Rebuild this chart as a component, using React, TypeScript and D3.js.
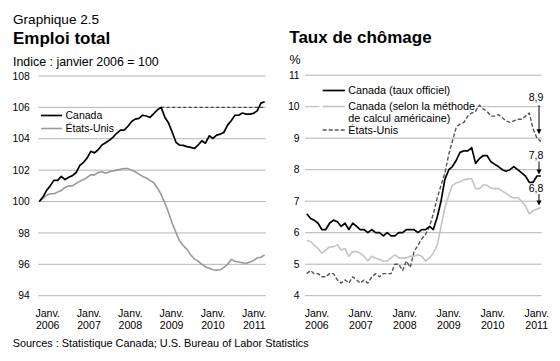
import React from 'react';
import * as d3 from 'd3';

const yearLabels = ['2006', '2007', '2008', '2009', '2010', '2011'];
const monthLabel = 'Janv.';
const employmentTicks = [94, 96, 98, 100, 102, 104, 106, 108];
const unemploymentTicks = [4, 5, 6, 7, 8, 9, 10, 11];

// Monthly, Jan 2006 – Feb 2011
const canadaEmployment = [
  100.0, 100.3, 100.7, 101.0, 101.35, 101.35, 101.6, 101.4, 101.55, 101.65,
  101.85, 102.3, 102.5, 102.8, 103.2, 103.1, 103.3, 103.6, 103.75, 103.9,
  104.1, 104.35, 104.55, 104.55, 104.8, 105.1, 105.25, 105.3, 105.5, 105.45,
  105.36, 105.6, 105.85, 106.0, 105.36, 105.0, 104.4, 103.76, 103.6, 103.58,
  103.5, 103.45, 103.38, 103.6, 103.87, 103.72, 104.19, 104.02, 104.23, 104.3,
  104.4, 104.87, 105.15, 105.5, 105.5, 105.64, 105.57, 105.57, 105.62, 105.78,
  106.27, 106.36,
];
const usEmployment = [
  100.0, 100.2, 100.4, 100.5, 100.5, 100.6, 100.7, 100.9, 101.0, 101.0,
  101.15, 101.3, 101.4, 101.55, 101.7, 101.7, 101.85, 101.9, 101.8, 101.9,
  101.95, 102.0, 102.05, 102.1, 102.1, 102.0, 101.9, 101.75, 101.6, 101.5,
  101.35, 101.2, 100.85, 100.45, 99.9, 99.3, 98.6, 98.0, 97.5, 97.2,
  96.95, 96.6, 96.35, 96.2, 96.0, 95.85, 95.75, 95.65, 95.63, 95.65,
  95.8, 96.0, 96.3, 96.2, 96.15, 96.1, 96.05, 96.15, 96.25, 96.4,
  96.45, 96.6,
];
const canadaUnemployment = [
  6.6, 6.45, 6.4, 6.3, 6.1, 6.1, 6.3, 6.4, 6.35, 6.2,
  6.3, 6.1, 6.3, 6.2, 6.1, 6.1, 6.0, 6.1, 6.0, 6.0,
  5.9, 6.0, 5.9, 5.9, 6.0, 6.0, 6.1, 6.1, 6.1, 6.0,
  6.1, 6.1, 6.2, 6.1, 6.5, 7.0, 7.7, 8.0, 8.1, 8.3,
  8.55, 8.6, 8.6, 8.7, 8.2, 8.35, 8.45, 8.45, 8.25, 8.17,
  8.1, 8.0, 7.95, 8.0, 8.1, 8.0, 7.9, 7.8, 7.6, 7.6,
  7.8, 7.8,
];
const canadaUnemploymentUSBasis = [
  5.75, 5.72, 5.6, 5.5, 5.35, 5.45, 5.55, 5.55, 5.62, 5.45,
  5.5, 5.25, 5.4, 5.4, 5.35, 5.25, 5.1, 5.25, 5.2, 5.15,
  5.1, 5.1, 5.2, 5.3, 5.2, 5.2, 5.2, 5.25, 5.25, 5.3,
  5.25, 5.1, 5.2, 5.35, 5.6, 6.2, 6.8, 7.2, 7.5, 7.58,
  7.62, 7.68, 7.7, 7.72, 7.4, 7.4, 7.52, 7.5, 7.42, 7.4,
  7.4, 7.32, 7.25, 7.15, 7.1, 7.12, 7.0, 6.85, 6.6, 6.7,
  6.75, 6.8,
];
const usUnemployment = [
  4.7, 4.8, 4.7, 4.7, 4.6, 4.6, 4.7, 4.7, 4.5, 4.4,
  4.5, 4.4, 4.6, 4.5, 4.4, 4.5, 4.4, 4.6, 4.7, 4.6,
  4.7, 4.7, 4.7, 5.0, 5.0, 4.8, 5.1, 4.9, 5.4, 5.6,
  5.8, 5.95, 6.2, 6.6, 7.1, 7.5, 7.9, 8.5, 8.9, 9.35,
  9.45, 9.5, 9.7, 9.8, 9.85, 10.05, 9.93, 9.85, 9.7, 9.7,
  9.75, 9.65, 9.55, 9.5, 9.55, 9.6, 9.6, 9.7, 9.8, 9.3,
  9.0, 8.9,
];

const months = d3.timeMonth.range(new Date(2006, 0, 1), new Date(2011, 2, 1));

const FONT = "'Liberation Sans', Arial, Helvetica, sans-serif";
const GRID = '#b4b4b4';

const fmtComma = (v: number) => d3.format('.1f')(v).replace('.', ',');

export default function App() {
  const start = months[0];
  const end = months[months.length - 1];

  const xL = d3.scaleTime().domain([start, end]).range([39.3, 264.7]);
  const yL = d3.scaleLinear().domain([94, 108]).range([295.7, 76]);
  const xR = d3.scaleTime().domain([start, end]).range([306.7, 540.9]);
  const yR = d3.scaleLinear().domain([4, 11]).range([295.7, 75.2]);
  const labL = d3.scalePoint<string>().domain(yearLabels).range([47.7, 254.3]);
  const labR = d3.scalePoint<string>().domain(yearLabels).range([316.9, 536.7]);

  const mkLine = (x: any, y: any) =>
    d3
      .line<number>()
      .x((_, i) => x(months[i]))
      .y((v) => y(v));
  const lineL = mkLine(xL, yL);
  const lineR = mkLine(xR, yR);

  // pre-recession peak of Canadian employment (before 2010)
  const peakIdx = d3.maxIndex(canadaEmployment.slice(0, 48));
  const peakVal = canadaEmployment[peakIdx];

  const last = months.length - 1;
  const arrowX = 539;
  const annotations = [
    { value: usUnemployment[last], labelDy: -40.5, fromY: yR(10) - 1.5, tipDy: -7 },
    { value: canadaUnemployment[last], labelDy: -17, fromY: null as number | null, tipDy: -1.5 },
    { value: canadaUnemploymentUSBasis[last], labelDy: -16, fromY: null as number | null, tipDy: -2 },
  ];

  const textStyle = { fontFamily: FONT, fill: '#000' } as const;

  return (
    <svg
      width={560}
      height={361}
      viewBox="0 0 560 361"
      style={{ position: 'absolute', left: 0, top: 0, background: '#fff' }}
    >
      <rect x={0} y={0} width={560} height={361} fill="#fff" />

      {/* Titles */}
      <text x={13} y={24.3} fontSize={13.6} style={textStyle}>Graphique 2.5</text>
      <text x={13} y={44.3} fontSize={17} fontWeight="bold" style={textStyle}>Emploi total</text>
      <text x={13} y={66} fontSize={12.4} style={textStyle}>Indice : janvier 2006 = 100</text>
      <text x={289.3} y={43.3} fontSize={17} fontWeight="bold" style={textStyle}>Taux de chômage</text>
      <text x={289.5} y={64.3} fontSize={12.4} style={textStyle}>%</text>

      {/* Left grid + y labels */}
      {employmentTicks.map((t) => (
        <g key={'gl' + t}>
          <line x1={38.3} x2={265.7} y1={yL(t)} y2={yL(t)} stroke={GRID} strokeWidth={1} />
          <text x={29.8} y={yL(t)} dy="0.35em" textAnchor="end" fontSize={10.3} style={textStyle}>
            {t}
          </text>
        </g>
      ))}

      {/* Right grid + y labels */}
      {unemploymentTicks.map((t) => (
        <g key={'gr' + t}>
          <line x1={305} x2={541.7} y1={yR(t)} y2={yR(t)} stroke={GRID} strokeWidth={1} />
          <text x={299.6} y={yR(t)} dy="0.35em" textAnchor="end" fontSize={10.3} style={textStyle}>
            {t}
          </text>
        </g>
      ))}

      {/* Right legend background */}
      <rect x={319.5} y={82} width={157} height={52} fill="#fff" />

      {/* X labels */}
      {yearLabels.map((yr) => (
        <g key={'xl' + yr}>
          <text x={labL(yr)} y={316.5} textAnchor="middle" fontSize={10.6} style={textStyle}>{monthLabel}</text>
          <text x={labL(yr)} y={329} textAnchor="middle" fontSize={10.6} style={textStyle}>{yr}</text>
          <text x={labR(yr)} y={316.5} textAnchor="middle" fontSize={10.6} style={textStyle}>{monthLabel}</text>
          <text x={labR(yr)} y={329} textAnchor="middle" fontSize={10.6} style={textStyle}>{yr}</text>
        </g>
      ))}

      {/* Left series */}
      <line
        x1={xL(months[peakIdx])}
        x2={xL(end)}
        y1={yL(peakVal)}
        y2={yL(peakVal)}
        stroke="#444"
        strokeWidth={1.3}
        strokeDasharray="3,2.5"
      />
      <path d={lineL(usEmployment) || ''} fill="none" stroke="#999" strokeWidth={1.6} strokeLinejoin="round" />
      <path d={lineL(canadaEmployment) || ''} fill="none" stroke="#000" strokeWidth={1.7} strokeLinejoin="round" />

      {/* Right series */}
      <path d={lineR(canadaUnemploymentUSBasis) || ''} fill="none" stroke="#c4c4c4" strokeWidth={1.6} strokeLinejoin="round" />
      <path d={lineR(usUnemployment) || ''} fill="none" stroke="#555" strokeWidth={1.4} strokeDasharray="4,2" strokeLinejoin="round" />
      <path d={lineR(canadaUnemployment) || ''} fill="none" stroke="#000" strokeWidth={1.7} strokeLinejoin="round" />

      {/* Left legend */}
      <line x1={41} x2={62} y1={115.5} y2={115.5} stroke="#000" strokeWidth={1.7} />
      <text x={65.5} y={119.3} fontSize={10.5} style={textStyle}>Canada</text>
      <line x1={41} x2={62} y1={128.5} y2={128.5} stroke="#999" strokeWidth={1.6} />
      <text x={65.5} y={132.3} fontSize={10.5} style={textStyle}>États-Unis</text>

      {/* Right legend */}
      <line x1={322.7} x2={345} y1={90.5} y2={90.5} stroke="#000" strokeWidth={1.7} />
      <text x={348.3} y={94.3} fontSize={10.8} style={textStyle}>Canada (taux officiel)</text>
      <line x1={322.7} x2={345} y1={106.5} y2={106.5} stroke="#c4c4c4" strokeWidth={1.6} />
      <text x={348.3} y={110.3} fontSize={10.8} style={textStyle}>Canada (selon la méthode</text>
      <text x={348.3} y={122.3} fontSize={10.8} style={textStyle}>de calcul américaine)</text>
      <line x1={322.7} x2={345} y1={130} y2={130} stroke="#555" strokeWidth={1.4} strokeDasharray="4,2" />
      <text x={348.3} y={133.8} fontSize={10.8} style={textStyle}>États-Unis</text>

      {/* End annotations */}
      {annotations.map((a, k) => {
        const yv = yR(a.value);
        const labelY = yv + a.labelDy;
        const tip = yv + a.tipDy;
        const from = a.fromY != null ? a.fromY : labelY + 2.5;
        return (
          <g key={'an' + k}>
            <text x={536} y={labelY} textAnchor="middle" fontSize={10.6} style={textStyle}>
              {fmtComma(a.value)}
            </text>
            <line x1={arrowX} x2={arrowX} y1={from} y2={tip - 4} stroke="#000" strokeWidth={1} />
            <path
              d={`M${arrowX - 2.5},${tip - 5} L${arrowX + 2.5},${tip - 5} L${arrowX},${tip} Z`}
              fill="#000"
            />
          </g>
        );
      })}

      {/* Source */}
      <text x={12.7} y={346.7} fontSize={10.9} style={textStyle}>
        Sources : Statistique Canada; U.S. Bureau of Labor Statistics
      </text>
    </svg>
  );
}
